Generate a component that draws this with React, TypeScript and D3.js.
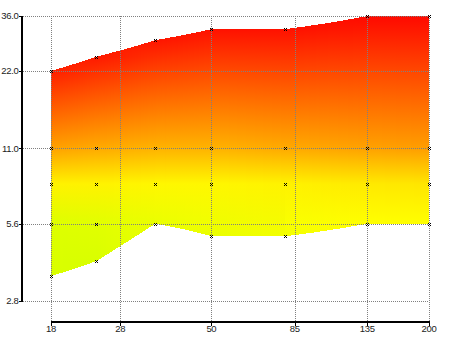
import React from "react";
import * as d3 from "d3";

const W = 450;
const H = 337;

// axis ticks
const xTicks = [18, 28, 50, 85, 135, 200];
const xTickLabels = ["18", "28", "50", "85", "135", "200"];
const yTicks = [2.8, 5.6, 11, 22, 36];
const yTickLabels = ["2.8", "5.6", "11.0", "22.0", "36.0"];

// sampled columns (x positions)
const xValues = [18, 24, 35, 50, 80, 135, 200];
// per column: y of each sample (lowest = lower limit, highest = upper limit)
const sampleY = [
  [3.5, 5.6, 8, 11, 22],
  [4.0, 5.6, 8, 11, 25],
  [5.6, 8, 11, 29],
  [5.0, 8, 11, 32],
  [5.0, 8, 11, 32],
  [5.6, 8, 11, 36],
  [5.6, 8, 11, 36],
];
// per column: value at each sample (colour level)
const sampleZ = [
  [69, 68, 57, 38, 7],
  [69, 67, 57, 40, 6],
  [65, 58, 42, 5],
  [65, 58, 42, 4],
  [63, 57, 40, 4],
  [60, 55, 38, 2],
  [60, 54, 37, 2],
];

const x = d3.scaleLog().domain([18, 200]).range([51, 429]);
const y = d3.scaleLog().domain([2.8, 36]).range([301, 16]);
const axisYPos = 322;
const axisXPos = 22;

const color = d3
  .scaleLinear<string>()
  .domain([0, 60, 75])
  .range(["#ff0000", "#ffff00", "#bfff00"])
  .clamp(true);

function zAt(col: number, v: number): number {
  const ys = sampleY[col];
  const zs = sampleZ[col];
  if (v <= ys[0]) return zs[0];
  if (v >= ys[ys.length - 1]) return zs[zs.length - 1];
  for (let k = 0; k < ys.length - 1; k++) {
    if (v >= ys[k] && v <= ys[k + 1]) {
      const t = (Math.log(v) - Math.log(ys[k])) / (Math.log(ys[k + 1]) - Math.log(ys[k]));
      return zs[k] + t * (zs[k + 1] - zs[k]);
    }
  }
  return zs[zs.length - 1];
}

const lower = sampleY.map((c) => c[0]);
const upper = sampleY.map((c) => c[c.length - 1]);

type Strip = {
  px: number;
  top: number;
  bot: number;
  stops: { offset: number; color: string }[];
};

function buildStrips(): Strip[] {
  const strips: Strip[] = [];
  const [r0, r1] = x.range();
  for (let px = r0; px < r1; px++) {
    const xv = x.invert(px + 0.5);
    let i = d3.bisectRight(xValues, xv) - 1;
    i = Math.max(0, Math.min(xValues.length - 2, i));
    const tD = Math.max(0, Math.min(1, (xv - xValues[i]) / (xValues[i + 1] - xValues[i])));
    const tL = Math.max(
      0,
      Math.min(1, (Math.log(xv) - Math.log(xValues[i])) / (Math.log(xValues[i + 1]) - Math.log(xValues[i])))
    );
    const topV = upper[i] + tD * (upper[i + 1] - upper[i]);
    const botV = lower[i] + tD * (lower[i + 1] - lower[i]);
    const top = Math.round(y(topV));
    const bot = Math.round(y(botV));
    const vals = Array.from(new Set([...sampleY[i], ...sampleY[i + 1], topV, botV]))
      .filter((v) => v >= botV && v <= topV)
      .sort((a, b) => b - a);
    const stops = vals.map((v) => {
      const z = (1 - tL) * zAt(i, v) + tL * zAt(i + 1, v);
      const off = bot > top ? (y(v) - top) / (bot - top) : 0;
      return { offset: Math.max(0, Math.min(1, off)), color: color(z) };
    });
    strips.push({ px, top, bot, stops });
  }
  return strips;
}

const strips = buildStrips();

export default function App() {
  const font = "'Liberation Sans', Arial, sans-serif";
  const [xr0, xr1] = x.range();
  return (
    <svg
      width={W}
      height={H}
      style={{ position: "absolute", left: 0, top: 0, background: "#fff" }}
    >
      <defs>
        {strips.map((s, k) => (
          <linearGradient
            key={k}
            id={`g${k}`}
            gradientUnits="userSpaceOnUse"
            x1={0}
            x2={0}
            y1={s.top}
            y2={s.bot}
          >
            {s.stops.map((st, j) => (
              <stop key={j} offset={st.offset} stopColor={st.color} />
            ))}
          </linearGradient>
        ))}
      </defs>
      <g shapeRendering="crispEdges">
        {strips.map((s, k) => (
          <rect key={k} x={s.px} y={s.top} width={1} height={s.bot - s.top} fill={`url(#g${k})`} />
        ))}
      </g>
      {/* grid */}
      <g stroke="#808080" strokeWidth={1} strokeDasharray="1,1" shapeRendering="crispEdges">
        {yTicks.map((t, k) => (
          <line key={"h" + k} x1={axisXPos + 1} x2={xr1} y1={Math.round(y(t)) + 0.5} y2={Math.round(y(t)) + 0.5} />
        ))}
        {xTicks.map((t, k) => (
          <line
            key={"v" + k}
            x1={Math.round(x(t)) + 0.5}
            x2={Math.round(x(t)) + 0.5}
            y1={y(36)}
            y2={axisYPos}
          />
        ))}
      </g>
      {/* axes */}
      <g stroke="#000" shapeRendering="crispEdges">
        <line x1={axisXPos} x2={axisXPos} y1={y(36)} y2={y(2.8) + 1} strokeWidth={2} />
        {yTicks.map((t, k) => (
          <line key={"yt" + k} x1={axisXPos - 3} x2={axisXPos} y1={Math.round(y(t)) + 0.5} y2={Math.round(y(t)) + 0.5} strokeWidth={1} />
        ))}
        <line x1={xr0} x2={xr1 + 1} y1={axisYPos} y2={axisYPos} strokeWidth={2} />
        {xTicks.map((t, k) => (
          <line key={"xt" + k} x1={Math.round(x(t)) + 0.5} x2={Math.round(x(t)) + 0.5} y1={axisYPos} y2={axisYPos + 4} strokeWidth={1} />
        ))}
      </g>
      {/* markers */}
      <g stroke="#000" strokeWidth={1}>
        {sampleY.map((col, i) =>
          col.map((v, j) => {
            const cx = Math.round(x(xValues[i])) + 0.5;
            const cy = Math.round(y(v)) + 0.5;
            return (
              <path
                key={`m${i}-${j}`}
                d={`M${cx - 1.5},${cy - 1.5}L${cx + 1.5},${cy + 1.5}M${cx - 1.5},${cy + 1.5}L${cx + 1.5},${cy - 1.5}`}
              />
            );
          })
        )}
      </g>
      {/* labels */}
      <g fontFamily={font} fontSize={9.5} fill="#222" letterSpacing={-0.3}>
        {yTicks.map((t, k) => (
          <text key={"yl" + k} x={axisXPos - 3.5} y={y(t)} dy="0.35em" textAnchor="end">
            {yTickLabels[k]}
          </text>
        ))}
        {xTicks.map((t, k) => (
          <text key={"xl" + k} x={x(t)} y={axisYPos + 10} textAnchor="middle">
            {xTickLabels[k]}
          </text>
        ))}
      </g>
    </svg>
  );
}
